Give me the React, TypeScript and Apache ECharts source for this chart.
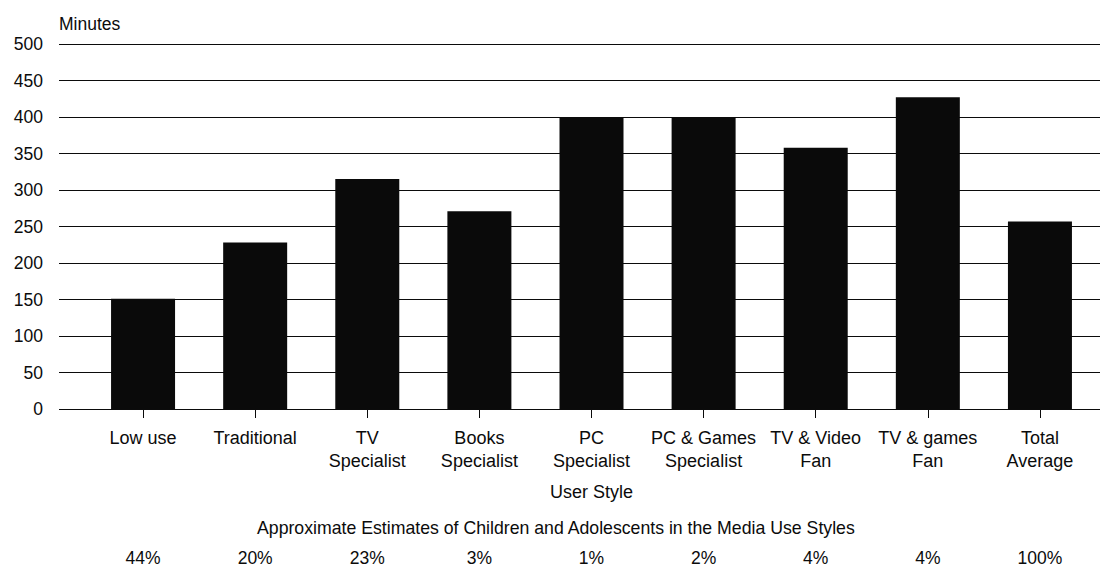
import React, { useEffect, useRef } from "react";
import * as echarts from "echarts";

// Media use per day, by user style
const categories = [
  "Low use",
  "Traditional",
  "TV\nSpecialist",
  "Books\nSpecialist",
  "PC\nSpecialist",
  "PC & Games\nSpecialist",
  "TV & Video\nFan",
  "TV & games\nFan",
  "Total\nAverage",
];
const minutes = [151, 228, 315, 271, 399, 399, 358, 427, 257];
const shares = ["44%", "20%", "23%", "3%", "1%", "2%", "4%", "4%", "100%"];
const yMin = 0;
const yMax = 500;
const yStep = 50;

const FONT = '"Liberation Sans", Arial, Helvetica, sans-serif';
const INK = "#0b0b0b";

export default function App() {
  const ref = useRef<HTMLDivElement>(null);

  useEffect(() => {
    document.body.style.margin = "0";
    if (!ref.current) return;
    const chart = echarts.init(ref.current, undefined, { renderer: "svg" });
    chart.setOption({
      animation: false,
      backgroundColor: "#ffffff",
      textStyle: { fontFamily: FONT, color: INK },
      title: {
        text: "Approximate Estimates of Children and Adolescents in the Media Use Styles",
        left: 257,
        top: 519,
        padding: 0,
        textStyle: { fontFamily: FONT, fontSize: 17.7, fontWeight: "normal", color: INK },
      },
      grid: [
        { left: 59, right: 0, top: 44, bottom: 159 },
        { left: 87, right: 4, top: 44, bottom: 159 },
      ],
      xAxis: [
        { gridIndex: 0, type: "value", show: false },
        {
          gridIndex: 1,
          type: "category",
          data: categories,
          axisLine: { show: true, lineStyle: { color: INK, width: 1 } },
          axisTick: { show: true, alignWithLabel: true, length: 9, lineStyle: { color: INK } },
          axisLabel: { interval: 0, margin: 17, fontSize: 18, lineHeight: 23, color: INK, fontFamily: FONT },
          name: "User Style",
          nameLocation: "middle",
          nameGap: 83,
          nameTextStyle: { fontSize: 18, color: INK, fontFamily: FONT, verticalAlign: "middle" },
        },
        {
          gridIndex: 1,
          type: "category",
          data: shares,
          position: "bottom",
          axisLine: { show: false },
          axisTick: { show: false },
          axisLabel: { interval: 0, margin: 149, fontSize: 17.5, color: INK, fontFamily: FONT, verticalAlign: "middle" },
        },
      ],
      yAxis: [
        {
          gridIndex: 0,
          type: "value",
          min: yMin,
          max: yMax,
          interval: yStep,
          axisLine: { show: false },
          axisTick: { show: false },
          axisLabel: { margin: 16, fontSize: 17.5, color: INK, fontFamily: FONT },
          splitLine: { show: true, lineStyle: { color: INK, width: 1 } },
          name: "Minutes",
          nameLocation: "end",
          nameGap: 20,
          nameTextStyle: { align: "left", verticalAlign: "middle", fontSize: 17.5, color: INK, fontFamily: FONT },
        },
        { gridIndex: 1, type: "value", min: yMin, max: yMax, interval: yStep, show: false },
      ],
      series: [
        {
          type: "bar",
          xAxisIndex: 1,
          yAxisIndex: 1,
          data: minutes,
          barWidth: 64,
          itemStyle: { color: "#0a0a0a" },
        },
      ],
    });
    return () => chart.dispose();
  }, []);

  return <div ref={ref} style={{ width: 1100, height: 568 }} />;
}
